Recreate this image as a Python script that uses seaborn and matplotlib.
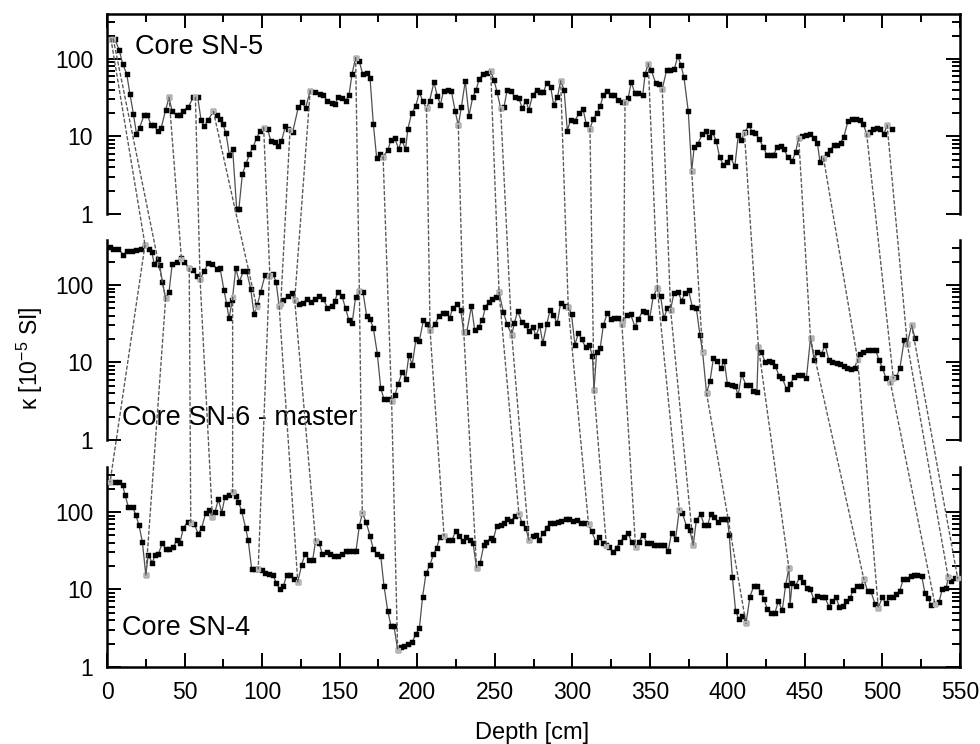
import numpy as np
import pandas as pd
import matplotlib
matplotlib.use("Agg")
import matplotlib.pyplot as plt
from matplotlib.patches import ConnectionPatch
from matplotlib.ticker import LogLocator, MultipleLocator, FuncFormatter, NullFormatter
import seaborn as sns

sns.set_style("ticks")
plt.rcParams["font.family"] = ["Liberation Sans", "DejaVu Sans"]
plt.rcParams["mathtext.default"] = "regular"
plt.rcParams["text.color"] = "black"
plt.rcParams["axes.labelcolor"] = "black"
plt.rcParams["xtick.color"] = "black"
plt.rcParams["ytick.color"] = "black"

# ---- magnetic susceptibility profiles (depth in cm, kappa in 1e-5 SI) ----
sn5_depth = [2.5, 5, 8, 10, 12.7, 14.8, 17, 19, 21, 24, 26, 28.4, 30.5, 32.7, 35, 37.8, 40, 42, 45, 47,
             49, 52.4, 55.6, 58.5, 60.6, 62.7, 65.3, 68.6, 70.8, 72.9, 74.6, 76.7, 78.9, 81, 83.6, 85,
             87.3, 89.6, 91.8, 94.3, 96.5, 98.7, 101, 103.5, 105.7, 108, 110.5, 112.5, 115, 117, 119.7,
             123.4, 126, 128, 131, 134, 137.3, 139.5, 142, 145, 147, 149, 151.5, 153.8, 156, 158, 160.3,
             162.7, 164.8, 167.5, 169.6, 171.7, 173.9, 176, 178, 181, 183, 185.5, 188, 190, 192.5, 194,
             196.5, 199, 201.4, 203.5, 206, 208, 210.8, 213, 215, 217, 220, 222, 224.4, 226.5, 228.5, 231,
             233.4, 235.8, 238, 240, 242.6, 245, 247.4, 249.5, 251.6, 253.8, 256, 258, 260.5, 263, 265.6,
             267.8, 270, 272, 274.4, 277, 279, 281.4, 283.5, 286, 288, 290.4, 292.5, 294.7, 296.8, 299,
             301.6, 304.6, 307, 309, 311.4, 313.6, 316, 318, 320, 322.5, 325, 327, 329.7, 332, 334, 336,
             338, 340.4, 342.6, 345.4, 347, 349, 351, 353.7, 356, 358, 360.8, 363, 365.8, 368, 370, 372,
             374.8, 377, 378.6, 381, 383.8, 386, 388, 390.4, 392.8, 395, 397.4, 399.6, 402, 404.8, 407,
             409, 411.3, 414, 416, 418, 420.4, 423, 425.7, 428, 430, 432, 434.3, 436.5, 439, 441.8, 444,
             446, 448, 451, 453.5, 455.8, 458, 459.7, 461.9, 464, 466, 468.7, 471, 473, 475, 477.9, 480.5,
             482.8, 485.5, 487.6, 489.8, 492, 494, 496.7, 498.5, 501, 503, 506]
sn5_kappa = [182, 180, 129, 87, 64, 35, 19.6, 10.8, 13, 19, 19, 14, 14, 11.6, 13, 22, 32, 21, 18.7, 19,
             21.5, 24, 32, 32, 16.4, 13.5, 16.5, 21, 19, 17, 14.6, 11, 5.8, 6.9, 1.17, 1.15,
             3.3, 4.4, 5.9, 7.4, 9.6, 11.6, 13, 12.5, 8.7, 8.5, 7.5, 8.7, 13.5, 12.5, 11.4,
             24, 27.5, 23, 39, 38, 35.6, 34, 29, 27, 26, 32, 31, 29, 34, 64, 104,
             93, 64, 65, 57, 14.6, 5.2, 5.9, 5.5, 6.6, 8.9, 9.6, 6.9, 8.9, 6.9, 12.6,
             20, 24.4, 37, 29, 23, 29, 50, 33, 25.7, 39, 40, 39, 21.6, 13.9, 24, 52,
             18.6, 32, 40, 55, 64, 66, 70, 53, 37, 23, 24, 40, 39, 32, 31,
             23, 29, 22, 34, 40, 38, 37, 49, 44, 25.6, 32, 52, 40, 11.9, 16.5,
             16, 20, 22.3, 14.5, 12.6, 17, 20, 24.6, 34, 39, 34, 34, 29.6, 28, 28, 31,
             50, 36, 36, 34, 64, 87, 71, 49, 48, 41, 71, 71, 74, 108, 84, 58,
             21, 3.6, 7.3, 8.1, 10.6, 11.6, 9.8, 11.3, 8.8, 5.4, 4.3, 4.7, 5.4, 4.1, 10.3,
             9.0, 11.5, 13.9, 11.4, 11, 9.3, 7.4, 5.7, 5.8, 5.8, 7.4, 7.6, 6.8, 5.4, 4.8, 6.3,
             9.6, 10, 10.4, 10.8, 9.6, 8.3, 4.75, 5.2, 5.9, 6.6, 7.7, 7.8, 8.3, 9.8, 16, 16.8,
             16.8, 16.3, 14.5, 10.8, 11.5, 12.5, 12.7, 12.5, 10.8, 14, 12.4]

sn6_depth = [2, 4, 7.3, 10.5, 12.7, 16, 19, 21.6, 24.5, 27, 28.8, 30.5, 32.6, 34, 35.7, 37.8, 40, 42, 45,
             47.5, 49.6, 52.9, 55.6, 57.8, 60, 62.5, 65.3, 68, 70.7, 72.9, 75.4, 77.2, 78.7, 80.8, 83,
             85.3, 87.9, 90, 92.6, 94.8, 96.9, 99, 101.9, 104.7, 107, 109, 111, 113.7, 116.9, 119, 121,
             123.7, 126.5, 128.7, 131.3, 134, 137, 139.5, 142, 145, 147, 149, 151.5, 153.8, 156, 158,
             160.3, 162.7, 165, 167.4, 169.6, 171.7, 174.3, 176.5, 178.6, 181, 183.5, 185.7, 187.8, 190.4,
             192.6, 194.7, 196.8, 199.2, 201.4, 204, 206, 208.3, 211.5, 214, 216.6, 218.7, 221, 223, 225.8,
             228, 230, 232, 235, 237, 239.7, 242, 244, 246.3, 248.4, 250.6, 252.8, 255.5, 258, 261, 262.6,
             264.8, 267.4, 270, 272, 274.5, 276.6, 279, 281, 283.5, 285.6, 287.8, 290.3, 292.5, 295, 297.4,
             299.5, 301.7, 303.9, 306, 308.6, 311, 313, 314, 315.7, 318, 320, 322.5, 325, 327, 329.7, 332,
             335, 337.6, 340.4, 342.6, 345.4, 347.5, 350, 352.2, 354.8, 357, 359, 361.3, 363.4, 365.5, 368,
             370.5, 372.7, 375, 377.4, 380, 382.3, 384, 386.6, 388.8, 391, 393.5, 395.7, 398, 400, 402.7,
             404.9, 407, 409.2, 412, 414.7, 416.8, 419, 420, 422, 424.2, 427, 429, 431, 433.3, 435.4, 438.2,
             440.4, 443, 445.7, 448.3, 451, 453.6, 456, 458, 460.7, 463, 465.5, 467.6, 470.4, 472.6, 475,
             477.3, 480, 482, 485.5, 487.6, 490.4, 493.4, 495.7, 497.7, 500, 502.2, 504.8, 507, 509, 511.3,
             514, 516, 518.8, 521]
sn6_kappa = [311, 295, 295, 244, 275, 278, 282, 295, 328, 295, 269, 185, 216, 180, 110, 67, 82, 185, 195,
             220, 200, 164, 157, 131, 118, 150, 190, 188, 162, 164, 86, 56, 37, 64, 164,
             110, 150, 150, 90, 42, 55, 80, 134, 132, 138, 110, 53, 64, 71, 78, 64,
             57, 58, 66, 61, 65, 72, 66, 51, 53, 63, 82, 72, 50, 35, 32,
             69, 84, 82, 40, 36, 28, 12.9, 4.65, 3.35, 3.4, 3.2, 3.8, 5.3, 7.6,
             6.2, 12.5, 9.3, 20, 19, 35, 31, 26, 31, 40, 43, 44, 38, 51, 56,
             48, 25, 25, 53, 26.6, 29, 35, 52, 61, 65, 70, 80, 45, 31, 22.6, 32,
             46, 33, 30, 25.6, 29, 22, 30, 17.7, 31, 47, 41, 32, 59, 54, 52,
             42, 16.8, 24, 20, 15.7, 16.8, 12.1, 4.4, 13.5, 15.3, 30, 43, 36, 38, 37, 31,
             41, 42, 29, 36, 46, 45, 38, 71, 91, 71, 37, 50, 48, 78, 82,
             63, 78, 85, 52, 50, 22.6, 13.8, 4.0, 5.8, 11.3, 10.6, 8.4, 10.5, 5.3, 5.1,
             5.0, 3.8, 7.1, 5.1, 5.1, 4.3, 4.1, 16, 13.8, 10.2, 10.3, 10.2, 9.0, 6.7, 6.3, 4.5,
             5.2, 6.5, 6.8, 6.8, 6.4, 20.5, 10.7, 13.5, 13, 16.8, 10.7, 10.1, 9.9, 9.5, 9.1,
             8.4, 8.2, 8.6, 13, 13.6, 14.6, 14.6, 14.6, 10.7, 8.6, 6.25, 5.6, 6.3, 6.5, 8.6,
             19.5, 17.5, 30.5, 20.5]

sn4_depth = [2, 5.2, 8, 10, 11.6, 13.7, 16.5, 18.5, 20.6, 22.8, 25, 26.6, 29.2, 31, 33, 35.7, 37.8, 40,
             42.8, 45, 47, 49.2, 52, 54, 56.3, 58.9, 61, 63.6, 65.8, 67.9, 69.6, 71.8, 74, 76, 78.8, 81,
             83, 84.7, 86.8, 89.4, 91, 93.3, 95.5, 97.5, 99.7, 102, 104.5, 107, 109, 111.5, 113.7, 115.8,
             118, 120.5, 123, 125.5, 127.7, 130.5, 132.6, 134.5, 136.8, 138.8, 141.6, 143.7, 146.4, 149,
             151.5, 153.9, 156, 158.8, 160.5, 162.7, 164.6, 167, 169.6, 171.7, 174.3, 176.5, 178.6, 181,
             183.1, 185, 187.4, 189.6, 191.7, 194.3, 196.8, 199.2, 201.4, 203.5, 205.7, 208.2, 210.5,
             212.6, 214.7, 217.3, 220, 222.5, 224.8, 227, 229.3, 231.5, 234, 236, 238.3, 240.5, 243,
             244.6, 247.4, 249, 251.2, 253.8, 256, 258, 260.8, 263, 265.6, 267.8, 270, 272, 274.5, 276.8,
             278.7, 281.4, 283.5, 285.6, 288, 290.5, 293, 295.7, 298, 300.7, 303, 305.6, 308, 310.5,
             312.5, 315.3, 317.5, 319.6, 321.8, 323.8, 326, 328.6, 330.8, 333.5, 336, 338.2, 340.8, 343,
             345.4, 348.4, 350.5, 352.6, 354.8, 357, 359, 361.9, 364, 366.6, 369, 371, 373.7, 375.8, 378,
             380, 382.8, 385, 387.3, 389.4, 391.6, 393.7, 396.2, 398.5, 400, 401.2, 403.2, 405.3, 407.5,
             409.7, 412, 414.6, 417, 419.2, 421.4, 423.5, 425.7, 427.9, 430.7, 432.8, 435.4, 437.6, 439.7,
             440.4, 441.8, 444, 446.8, 448.9, 451.4, 453.5, 455.8, 458, 460.7, 462.9, 465.5, 467.6, 470,
             472.2, 474.3, 476.8, 479, 481.2, 483.8, 486, 488, 490.4, 492.5, 495.2, 497.3, 499.9, 502.2,
             504.4, 507, 509, 511.2, 513.4, 515.5, 518.2, 520.4, 522.5, 525.3, 527.4, 529.5, 531.3, 533.8,
             536.4, 538.6, 541, 542.4, 544.5, 546.7]
sn4_kappa = [246, 246, 240, 226, 166, 117, 117, 91.5, 68, 41, 15.4, 28, 22, 28, 28.5, 39.5, 33, 33,
             35, 44, 39.5, 62, 75, 72, 69, 52, 62, 96, 105, 87, 100, 145, 98, 155, 165, 180,
             163, 135, 103, 62, 43.5, 18.2, 18.2, 18.5, 17.7, 16.5, 15.8, 15.5, 12.2, 10, 11, 15.2,
             15.5, 13.5, 12.5, 20.7, 29, 24, 24, 42, 40, 28.5, 30, 28.5, 27, 27,
             28.5, 31, 31, 31, 31, 66, 96, 75, 49, 33, 28.5, 26.8, 11.1, 5.3,
             3.4, 3.4, 1.66, 1.83, 1.85, 2.0, 2.1, 2.7, 3.15, 8.1, 16.2, 20.7, 28.5,
             34.7, 48, 49, 43.5, 43.5, 57, 49, 42, 47, 43.5, 40, 18.7, 21.7, 37.5,
             41, 46, 43.5, 65, 68, 71, 80, 77, 89, 93, 71, 62, 43.5, 49, 51,
             43.5, 53, 63, 71, 71, 74, 77, 80, 80, 77, 78, 72, 72, 69,
             56, 41, 47, 40, 37, 35, 30, 34.7, 41, 48, 53, 41, 35, 41,
             51, 39.5, 39.5, 38, 37, 37, 38, 31.8, 54, 45, 106, 96, 65, 58, 37,
             79, 93, 68, 68, 95, 87, 74, 80, 82, 80, 50.5, 14.6, 5.3, 4.1,
             4.6, 3.65, 8.1, 11.1, 11, 9.4, 7.6, 5.6, 5.0, 5.0, 7.0, 5.4, 11.5, 18.7,
             6.3, 12.3, 11.2, 14.6, 12.5, 10.3, 10, 7.4, 8.3, 8.1, 7.9, 6.0, 7, 7.9,
             6.0, 6.1, 7, 7.7, 9.9, 11.1, 11, 13.6, 9.6, 9.5, 6.5, 5.8, 7.9, 6.6,
             7.9, 8.1, 8.7, 9.7, 13.5, 13.5, 15, 15.3, 15.6, 15, 8.9, 7.7, 6.3, 6.5,
             6.8, 10.2, 10.3, 14.3, 13, 14]

# ---- correlation tie points (depths of matching features) ----
tie56_sn5 = [2.5, 4, 40, 57, 68.6, 101, 118, 131, 160.3, 178, 206, 226.5, 247.4, 253.8, 292.5, 311.4,
             334, 349, 358, 377, 411, 446, 462, 489.8, 503]
tie56_sn6 = [24.5, 37.8, 48, 60, 96.5, 105, 112, 121, 162.7, 183.5, 208.3, 230, 252.8, 261, 297.4, 314,
             333, 355, 363.4, 384, 420, 453.6, 484, 507, 516]
tie64_sn6 = [24.5, 37.8, 53, 60, 81, 104.7, 111, 121, 162.7, 183.5, 208.3, 230, 252.8, 261, 297.4, 314,
             332, 354.8, 363.4, 386.6, 420, 453.6, 484, 505, 516, 518.8]
tie64_sn4 = [2, 25, 54, 67.9, 81, 97.5, 123, 134.5, 164.6, 187.4, 217.3, 238.3, 265.6, 272, 310.5, 322,
             340.8, 369, 378, 412, 439.7, 488, 497.3, 533.8, 542.4, 548.5]

core_labels = ["Core SN-5", "Core SN-6 - master", "Core SN-4"]
x_ticks_major = 50
x_ticks_minor = 25

cores = [(sn5_depth, sn5_kappa), (sn6_depth, sn6_kappa), (sn4_depth, sn4_kappa)]


def kappa_at(depth, kappa, where):
    """Value of a profile at arbitrary depths (interpolated in log space)."""
    return 10 ** np.interp(where, depth, np.log10(kappa))


fig = plt.figure(figsize=(9.8, 7.44), dpi=100)
left, width, height = 0.1092, 0.8704, 0.2688
bottoms = [0.7124, 0.4086, 0.1035]
axes = [fig.add_axes([left, b, width, height]) for b in bottoms]

for i, (ax, (d, k)) in enumerate(zip(axes, cores)):
    df = pd.DataFrame({"depth": d, "kappa": k})
    sns.lineplot(data=df, x="depth", y="kappa", ax=ax, estimator=None, sort=False,
                 color="#505050", linewidth=0.9, marker="s", markersize=3.6,
                 markerfacecolor="black", markeredgecolor="black", markeredgewidth=0.3, zorder=2)
    ax.set_yscale("log")
    ax.set_xlim(0, 550)
    ax.set_ylim(1, 380)
    ax.set_xlabel("")
    ax.set_ylabel("")

    ax.xaxis.set_major_locator(MultipleLocator(x_ticks_major))
    ax.xaxis.set_minor_locator(MultipleLocator(x_ticks_minor))
    ax.yaxis.set_major_locator(LogLocator(base=10, numticks=10))
    ax.yaxis.set_minor_locator(LogLocator(base=10, subs=np.arange(2, 10), numticks=20))
    ax.yaxis.set_major_formatter(FuncFormatter(lambda v, p: f"{v:g}"))
    ax.yaxis.set_minor_formatter(NullFormatter())

    ax.tick_params(which="both", direction="in", width=1.4, colors="black",
                   left=True, right=True, top=(i == 0), bottom=(i == 2),
                   labelleft=True, labelright=False, labeltop=False, labelbottom=(i == 2),
                   labelsize=16.5, pad=10)
    ax.tick_params(which="major", length=10)
    ax.tick_params(which="minor", length=5.5)

    for side in ["left", "right", "top", "bottom"]:
        ax.spines[side].set_linewidth(1.8)
        ax.spines[side].set_color("black")
    ax.spines["top"].set_visible(i == 0)
    ax.spines["bottom"].set_visible(i == 2)
    ax.patch.set_alpha(0)

axes[0].text(0.033, 0.835, core_labels[0], transform=axes[0].transAxes,
             fontsize=19.5, va="center", ha="left", color="black")
axes[1].text(0.0176, 0.11, core_labels[1], transform=axes[1].transAxes,
             fontsize=19.5, va="center", ha="left", color="black")
axes[2].text(0.0176, 0.195, core_labels[2], transform=axes[2].transAxes,
             fontsize=19.5, va="center", ha="left", color="black")

fig.text(0.0306, 0.519, "κ [10$^{-5}$ SI]", rotation=90, fontsize=16.5,
         ha="center", va="center", color="black")
fig.text(0.5434, 0.0148, "Depth [cm]", fontsize=17, ha="center", va="center", color="black")

# dotted correlation lines between neighbouring cores
tie_sets = [
    (axes[0], cores[0], tie56_sn5, axes[1], cores[1], tie56_sn6),
    (axes[1], cores[1], tie64_sn6, axes[2], cores[2], tie64_sn4),
]
for ax_a, (da, ka), ta, ax_b, (db, kb), tb in tie_sets:
    ya = kappa_at(da, ka, ta)
    yb = kappa_at(db, kb, tb)
    for xa, va, xb, vb in zip(ta, ya, tb, yb):
        con = ConnectionPatch(xyA=(xa, va), coordsA=ax_a.transData,
                              xyB=(xb, vb), coordsB=ax_b.transData,
                              color="#5a5a5a", linewidth=1.0, linestyle=(0, (2.2, 2.0)),
                              zorder=3)
        fig.add_artist(con)

# highlight the tie points on each profile
for ax, (d, k), pts in [(axes[0], cores[0], tie56_sn5),
                        (axes[1], cores[1], sorted(set(tie56_sn6) | set(tie64_sn6))),
                        (axes[2], cores[2], tie64_sn4)]:
    ax.plot(pts, kappa_at(d, k, pts), "s", ms=3.4, color="#b5b5b5", zorder=4, clip_on=False)

fig.savefig("out.png", dpi=100)
